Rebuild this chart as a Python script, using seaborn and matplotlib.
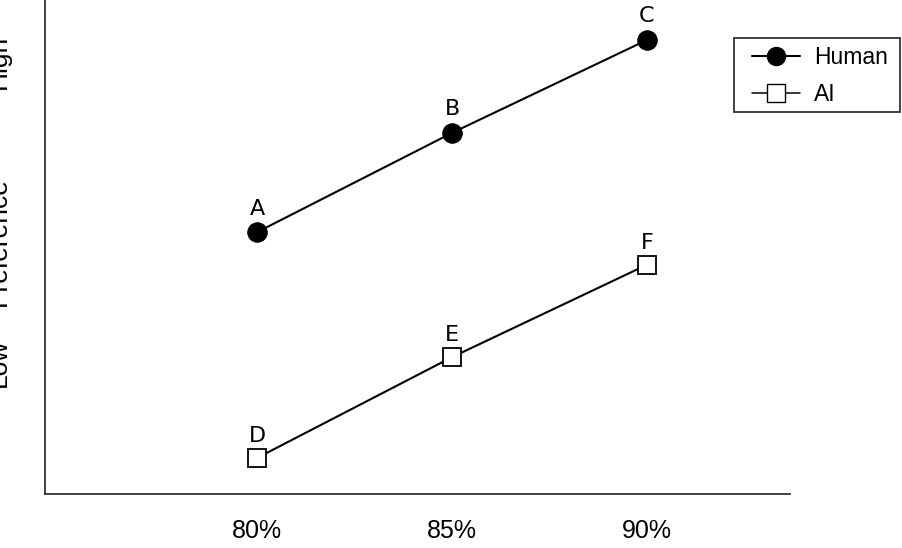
import pandas as pd
import matplotlib
matplotlib.use('Agg')
import matplotlib.pyplot as plt
import seaborn as sns
from matplotlib.lines import Line2D
from matplotlib.patches import Rectangle

# Values (preference on an arbitrary 0-10 scale)
accuracy = [80, 85, 90]
human_pref = [5.30, 7.31, 9.19]
ai_pref = [0.73, 2.77, 4.64]
human_labels = ['A', 'B', 'C']
ai_labels = ['D', 'E', 'F']
tick_labels = ['80%', '85%', '90%']

sns.set_theme(style='white', rc={'text.color': 'black', 'xtick.color': 'black'})
plt.rcParams['font.family'] = ['Liberation Sans', 'DejaVu Sans']

df = pd.DataFrame({
    'accuracy': accuracy * 2,
    'preference': human_pref + ai_pref,
    'agent': ['Human'] * 3 + ['AI'] * 3,
})

fig = plt.figure(figsize=(9.02, 5.48), dpi=100)
ax = fig.add_axes([45 / 902, 54 / 548, 745 / 902, 494 / 548])

sns.lineplot(data=df[df.agent == 'Human'], x='accuracy', y='preference', ax=ax,
             color='black', lw=1.5, marker='o', markersize=14,
             markerfacecolor='black', markeredgecolor='black')
sns.lineplot(data=df[df.agent == 'AI'], x='accuracy', y='preference', ax=ax,
             color='black', lw=1.5, marker='s', markersize=12.5,
             markerfacecolor='white', markeredgecolor='black', markeredgewidth=1.3)

for x, y, lab in zip(accuracy, human_pref, human_labels):
    ax.annotate(lab, (x, y), xytext=(0, 17), textcoords='offset points',
                ha='center', va='center', fontsize=16, family='DejaVu Sans')
for x, y, lab in zip(accuracy, ai_pref, ai_labels):
    ax.annotate(lab, (x, y), xytext=(0, 16), textcoords='offset points',
                ha='center', va='center', fontsize=16, family='DejaVu Sans')

ax.set_xlim(74.56, 93.67)
ax.set_ylim(0, 10)
ax.set_xticks(accuracy)
ax.set_xticklabels(tick_labels, fontsize=18)
ax.set_yticks([])
ax.tick_params(axis='x', length=0, pad=18)
ax.set_xlabel('')
ax.set_ylabel('')
for side in ['top', 'right']:
    ax.spines[side].set_visible(False)
for side in ['left', 'bottom']:
    ax.spines[side].set_color('#333333')
    ax.spines[side].set_linewidth(1.3)

# y axis words, partly cut at the left edge as in the source
for txt, ypx in [('High', 62), ('Preference', 242), ('Low', 363)]:
    fig.text(11 / 902, 1 - ypx / 548, txt, rotation=90, ha='right', va='center',
             fontsize=19)

handles = [
    Line2D([], [], color='black', lw=1.5, marker='o', markersize=13,
           markerfacecolor='black', markeredgecolor='black'),
    Line2D([], [], color='black', lw=1.1, marker='s', markersize=13,
           markerfacecolor='white', markeredgecolor='black'),
]
leg = fig.legend(handles, ['Human', 'AI'], loc='upper left',
                 bbox_to_anchor=(752 / 902, 1 - 46 / 548), fontsize=16.5,
                 frameon=False, handlelength=2.1, borderpad=0,
                 labelspacing=0.62, handletextpad=0.6, borderaxespad=0)
fig.patches.append(Rectangle((734 / 902, 1 - 112 / 548), 166 / 902, 74 / 548,
                             transform=fig.transFigure, fill=False,
                             edgecolor='#333333', linewidth=1.3))

fig.savefig('out.png', dpi=100)
